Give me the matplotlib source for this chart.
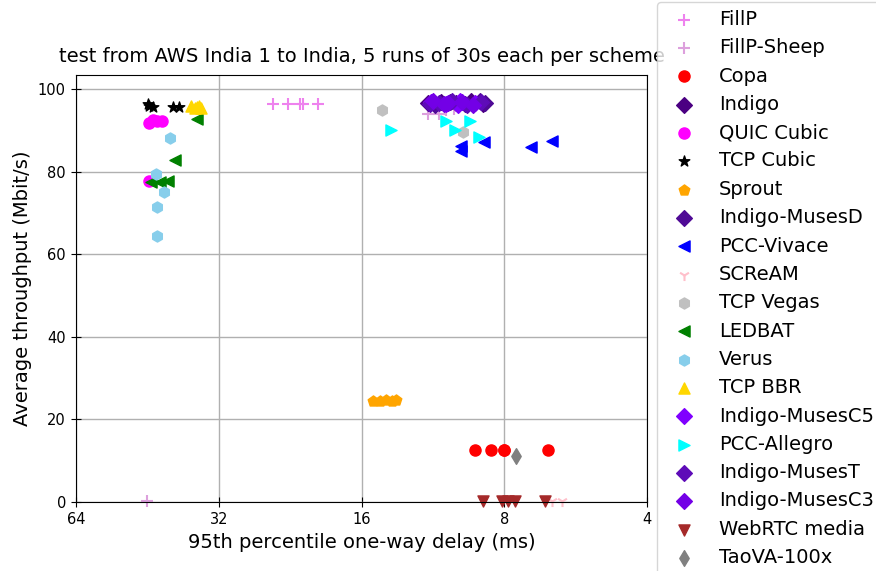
import matplotlib
matplotlib.use('Agg')
import matplotlib.pyplot as plt
from matplotlib.ticker import ScalarFormatter

# (delay in ms, throughput in Mbit/s) per scheme
fillp_x = [24.6, 22.9, 21.6, 21.3, 19.8]
fillp_y = [96.4, 96.4, 96.4, 96.4, 96.4]
sheep_x = [45.3, 11.6, 11.0, 10.6, 10.2]
sheep_y = [0.3, 94.0, 94.0, 95.0, 95.2]
copa_x = [9.21, 8.53, 8.0, 6.46, 8.02]
copa_y = [12.6, 12.6, 12.6, 12.6, 12.7]
indigo_x = [11.6, 10.9, 9.4, 8.85, 10.1]
indigo_y = [96.5, 96.8, 97.0, 96.3, 96.6]
quic_x = [45.0, 44.0, 43.2, 42.2, 44.8]
quic_y = [91.8, 92.4, 92.3, 92.2, 77.7]
cubic_x = [45.2, 44.0, 40.0, 38.9, 45.0]
cubic_y = [96.3, 95.7, 95.6, 95.6, 96.0]
sprout_x = [15.1, 14.6, 14.2, 13.8, 13.5]
sprout_y = [24.5, 24.4, 24.6, 24.5, 24.7]
musesd_x = [11.2, 10.4, 9.7, 9.0, 8.8]
musesd_y = [96.2, 96.9, 96.4, 97.1, 96.7]
vivace_x = [8.82, 9.88, 9.88, 7.03, 6.33]
vivace_y = [87.2, 86.3, 85.0, 86.0, 87.4]
scream_x = [6.35, 6.05]
scream_y = [0.3, 0.3]
vegas_x = [14.45, 9.77]
vegas_y = [94.9, 89.5]
ledbat_x = [35.6, 39.5, 44.5, 42.6, 40.9]
ledbat_y = [92.8, 82.8, 77.4, 77.6, 77.8]
verus_x = [40.6, 43.3, 41.7, 43.2, 43.2]
verus_y = [88.2, 79.5, 75.1, 71.4, 64.4]
bbr_x = [36.6, 35.9, 35.2, 34.8, 35.5]
bbr_y = [95.8, 95.5, 95.9, 95.4, 95.6]
musesc5_x = [11.4, 10.6, 9.9, 9.2, 10.0]
musesc5_y = [96.9, 96.3, 97.0, 96.5, 96.2]
allegro_x = [13.84, 10.62, 10.17, 9.45, 9.03]
allegro_y = [90.1, 92.25, 90.1, 92.25, 88.5]
musest_x = [11.0, 10.3, 9.6, 8.95, 11.5]
musest_y = [96.6, 97.1, 96.2, 96.8, 96.4]
musesc3_x = [11.3, 10.7, 9.8, 9.3, 10.5]
musesc3_y = [97.0, 96.4, 96.8, 96.1, 96.7]
webrtc_x = [8.86, 8.10, 7.85, 7.58, 6.57]
webrtc_y = [0.3, 0.3, 0.3, 0.3, 0.3]
taova_x = [7.56]
taova_y = [11.1]

schemes = [
    ('FillP', fillp_x, fillp_y, 'violet', '+'),
    ('FillP-Sheep', sheep_x, sheep_y, 'plum', '+'),
    ('Copa', copa_x, copa_y, 'red', 'o'),
    ('Indigo', indigo_x, indigo_y, '#4b0082', 'D'),
    ('QUIC Cubic', quic_x, quic_y, 'magenta', 'o'),
    ('TCP Cubic', cubic_x, cubic_y, 'black', '*'),
    ('Sprout', sprout_x, sprout_y, 'orange', 'p'),
    ('Indigo-MusesD', musesd_x, musesd_y, '#4f0a96', 'D'),
    ('PCC-Vivace', vivace_x, vivace_y, 'blue', '<'),
    ('SCReAM', scream_x, scream_y, 'pink', '1'),
    ('TCP Vegas', vegas_x, vegas_y, 'silver', 'h'),
    ('LEDBAT', ledbat_x, ledbat_y, 'green', '<'),
    ('Verus', verus_x, verus_y, 'skyblue', 'h'),
    ('TCP BBR', bbr_x, bbr_y, 'gold', '^'),
    ('Indigo-MusesC5', musesc5_x, musesc5_y, '#8000ff', 'D'),
    ('PCC-Allegro', allegro_x, allegro_y, 'cyan', '>'),
    ('Indigo-MusesT', musest_x, musest_y, '#5e0cb8', 'D'),
    ('Indigo-MusesC3', musesc3_x, musesc3_y, '#7300e6', 'D'),
    ('WebRTC media', webrtc_x, webrtc_y, 'brown', 'v'),
    ('TaoVA-100x', taova_x, taova_y, 'gray', 'd'),
]

fig = plt.figure(figsize=(8.76, 5.71), dpi=100)
ax = fig.add_axes([76 / 876, 1 - 502 / 571, 571 / 876, 427 / 571])

for name, x, y, color, marker in schemes:
    ax.scatter(x, y, color=color, marker=marker, s=64, label=name, clip_on=False)

ax.set_xscale('log', base=2)
ax.xaxis.set_major_formatter(ScalarFormatter())
ax.set_xlim(64, 4)
ax.set_ylim(0, 103.4)
ax.grid(True, color='#b0b0b0', linewidth=1.0)
ax.set_axisbelow(True)
ax.tick_params(axis='both', labelsize=10.5, direction='inout', length=7.5)

ax.set_title('test from AWS India 1 to India, 5 runs of 30s each per scheme',
             fontsize=14, pad=9)
ax.set_xlabel('95th percentile one-way delay (ms)', fontsize=14)
ax.set_ylabel('Average throughput (Mbit/s)', fontsize=14)

ax.legend(scatterpoints=1, bbox_to_anchor=(1, 0.5), loc='center left',
          fontsize=14, labelspacing=0.48)

fig.savefig('out.png', dpi=100)
